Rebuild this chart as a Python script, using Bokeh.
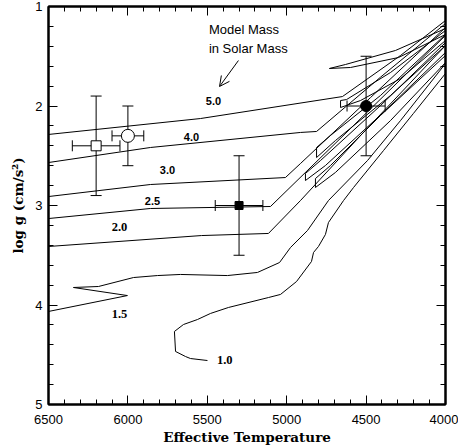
from bokeh.plotting import figure
from bokeh.models import (Range1d, LinearAxis, SingleIntervalTicker, Whisker, ColumnDataSource,
                          Arrow, OpenHead, TeeHead, Label, CustomJSTickFormatter)
from bokeh.embed import file_html
from bokeh.resources import INLINE

# ---- evolutionary tracks (Teff, log g) ----
t10_teff = [5499, 5606, 5637, 5700, 5707, 5650, 5562, 5480, 5367, 5115, 5039, 4938, 4844, 4831, 4800, 4756, 4737, 4642, 4579, 4390, 4202, 4000]
t10_logg = [4.558, 4.538, 4.518, 4.467, 4.266, 4.196, 4.146, 4.085, 4.025, 3.925, 3.894, 3.764, 3.563, 3.472, 3.412, 3.291, 3.171, 2.950, 2.819, 2.447, 2.075, 1.673]

t15_teff = [6500, 6003, 6343, 6185, 5965, 5814, 5669, 5373, 5184, 5045, 4976, 4869, 4737, 4491, 4283, 4000]
t15_logg = [4.065, 3.905, 3.824, 3.814, 3.724, 3.704, 3.693, 3.704, 3.673, 3.573, 3.422, 3.251, 2.950, 2.548, 2.146, 1.573]

t20_teff = [6500, 5537, 5115, 4913, 4535, 4000, 4000, 4409, 4724, 4819, 4819, 4693, 4346, 4000]
t20_logg = [3.412, 3.302, 3.281, 2.950, 2.297, 1.392, 1.492, 2.095, 2.598, 2.729, 2.819, 2.668, 2.146, 1.563]

t25_teff = [6500, 5858, 5102, 4598, 4000, 4000, 4409, 4787, 4882, 4882, 4756, 4378, 4000]
t25_logg = [3.131, 3.030, 3.010, 2.226, 1.291, 1.362, 1.995, 2.548, 2.678, 2.749, 2.598, 2.045, 1.462]

t30_teff = [6500, 5858, 5008, 4913, 4472, 4000, 4000, 4409, 4724, 4812, 4812, 4693, 4346, 4000]
t30_logg = [2.910, 2.789, 2.719, 2.578, 1.915, 1.211, 1.281, 1.894, 2.296, 2.417, 2.518, 2.347, 1.894, 1.392]

t40_teff = [6500, 5858, 4913, 4812, 4409, 4000, 4000, 4346, 4623, 4661, 4661, 4535, 4283, 4000]
t40_logg = [2.568, 2.417, 2.266, 2.256, 1.710, 1.171, 1.241, 1.663, 1.935, 1.945, 2.015, 1.945, 1.724, 1.342]

t50_teff = [6500, 5543, 4649, 4283, 4000, 4000, 4315, 4630, 4731, 4598, 4296, 4000]
t50_logg = [2.286, 2.126, 1.905, 1.492, 1.141, 1.221, 1.442, 1.583, 1.623, 1.613, 1.513, 1.281]

# ---- track labels ----
mass_labels = ["5.0", "4.0", "3.0", "2.5", "2.0", "1.5", "1.0"]
label_teff = [5461, 5600, 5751, 5845, 6053, 6053, 5390]
label_logg = [1.950, 2.307, 2.648, 2.950, 3.221, 4.095, 4.548]

# ---- observed stars ----
star_teff = [6200, 6000, 5300, 4500]
star_logg = [2.4, 2.3, 3.0, 2.0]
star_teff_err = [150, 100, 150, 120]
star_logg_err = [0.5, 0.3, 0.5, 0.5]

p = figure(width=458, height=448, x_range=Range1d(6500, 4000), y_range=Range1d(5, 1),
           output_backend="svg", toolbar_location=None,
           min_border_left=48, min_border_right=13, min_border_top=6, min_border_bottom=44)
p.grid.visible = False
p.outline_line_color = "black"
p.outline_line_width = 2
p.background_fill_color = "white"
p.border_fill_color = "white"

xt = SingleIntervalTicker(interval=500, num_minor_ticks=5)
yt = SingleIntervalTicker(interval=1, num_minor_ticks=5)

for ax in p.xaxis:
    ax.ticker = xt
for ax in p.yaxis:
    ax.ticker = yt

def style_axis(ax, labels=True):
    ax.axis_line_width = 2
    ax.axis_line_color = "black"
    ax.major_tick_in = 9
    ax.major_tick_out = 0
    ax.minor_tick_in = 5
    ax.minor_tick_out = 0
    ax.major_tick_line_color = "black"
    ax.minor_tick_line_color = "black"
    if labels:
        ax.major_label_text_font = "Liberation Sans"
        ax.major_label_text_font_size = "13px"
        ax.major_label_text_color = "black"
    else:
        ax.formatter = CustomJSTickFormatter(code="return ''")
        ax.major_label_standoff = 0

style_axis(p.xaxis[0])
style_axis(p.yaxis[0])
p.xaxis[0].major_label_standoff = 10
p.yaxis[0].major_label_standoff = 6
p.xaxis.axis_label = "Effective Temperature"
p.yaxis.axis_label = "log g (cm/s²)"
for ax in (p.xaxis[0], p.yaxis[0]):
    ax.axis_label_text_font = "DejaVu Serif"
    ax.axis_label_text_font_style = "bold"
    ax.axis_label_text_font_size = "13.5px"
    ax.axis_label_text_color = "black"
p.xaxis[0].axis_label_standoff = 2
p.yaxis[0].axis_label_standoff = 6

top = LinearAxis(ticker=xt)
style_axis(top, labels=False)
p.add_layout(top, "above")
right = LinearAxis(ticker=yt)
style_axis(right, labels=False)
p.add_layout(right, "right")

tracks = [(t10_teff, t10_logg), (t15_teff, t15_logg), (t20_teff, t20_logg), (t25_teff, t25_logg),
          (t30_teff, t30_logg), (t40_teff, t40_logg), (t50_teff, t50_logg)]
for tx, ty in tracks:
    p.line(tx, ty, line_color="black", line_width=1)

# track labels
for lab, lx, ly in zip(mass_labels, label_teff, label_logg):
    serif = lab in ("2.0", "1.5", "1.0")
    p.add_layout(Label(x=lx, y=ly, text=lab, text_align="center", text_baseline="middle",
                       text_font="Liberation Serif" if serif else "Liberation Sans",
                       text_font_style="bold", text_font_size="12.5px" if serif else "11px",
                       text_color="black"))

# annotation
p.add_layout(Label(x=5490, y=1.23, text="Model Mass", text_font="Liberation Sans",
                   text_font_size="13px", text_baseline="middle", text_color="black"))
p.add_layout(Label(x=5490, y=1.42, text="in Solar Mass", text_font="Liberation Sans",
                   text_font_size="13px", text_baseline="middle", text_color="black"))
p.add_layout(Arrow(x_start=5304, y_start=1.543, x_end=5423, y_end=1.804,
                   line_color="black", line_width=1,
                   end=OpenHead(size=10, line_color="black", line_width=1)))

# error bars
src = ColumnDataSource(dict(
    x=star_teff, y=star_logg,
    xl=[t - e for t, e in zip(star_teff, star_teff_err)],
    xu=[t + e for t, e in zip(star_teff, star_teff_err)],
    yl=[g - e for g, e in zip(star_logg, star_logg_err)],
    yu=[g + e for g, e in zip(star_logg, star_logg_err)],
))
p.add_layout(Whisker(source=src, base="x", lower="yl", upper="yu", dimension="height",
                     line_color="black", line_width=1,
                     lower_head=TeeHead(size=11, line_color="black"),
                     upper_head=TeeHead(size=11, line_color="black")))
p.add_layout(Whisker(source=src, base="y", lower="xl", upper="xu", dimension="width",
                     line_color="black", line_width=1,
                     lower_head=TeeHead(size=11, line_color="black"),
                     upper_head=TeeHead(size=11, line_color="black")))

p.scatter([star_teff[0]], [star_logg[0]], marker="square", size=10, fill_color="white",
          line_color="black", line_width=1)
p.scatter([star_teff[1]], [star_logg[1]], marker="circle", size=13, fill_color="white",
          line_color="black", line_width=1)
p.scatter([star_teff[2]], [star_logg[2]], marker="square", size=8, fill_color="black",
          line_color="black")
p.scatter([star_teff[3]], [star_logg[3]], marker="circle", size=11, fill_color="black",
          line_color="black")

open("out.html", "w").write(file_html(p, INLINE))
